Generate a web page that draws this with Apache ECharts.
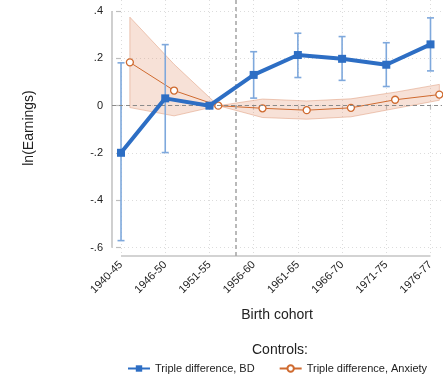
<!DOCTYPE html>
<html>
<head>
<meta charset="utf-8">
<script src="https://cdn.jsdelivr.net/npm/echarts@6/dist/echarts.min.js"></script>
<style>
  html, body { margin: 0; padding: 0; background: #fff; }
  #chart { width: 443px; height: 378px; }
</style>
</head>
<body>
<div id="chart"></div>
<script>
const cohorts = ['1940-45', '1946-50', '1951-55', '1956-60', '1961-65', '1966-70', '1971-75', '1976-77']
const cohortPos = [0, 1, 2, 3, 4, 5, 6, 7]
const anxShift = 0.2
const cutoffPos = 2.6

// Triple difference, BD (point + 95% CI)
const bdCoef = [-0.199, 0.031, 0, 0.130, 0.214, 0.198, 0.173, 0.259]
const bdLow = [-0.570, -0.198, null, 0.032, 0.119, 0.107, 0.081, 0.147]
const bdHigh = [0.181, 0.258, null, 0.228, 0.306, 0.292, 0.266, 0.371]

// Triple difference, Anxiety (point + CI band)
const anxCoef = [0.183, 0.064, 0, -0.011, -0.019, -0.009, 0.025, 0.047]
const anxLow = [-0.008, -0.043, 0, -0.050, -0.057, -0.047, -0.012, 0.023]
const anxHigh = [0.374, 0.175, 0, 0.028, 0.020, 0.029, 0.057, 0.090]

const yTicks = [-0.6, -0.4, -0.2, 0, 0.2, 0.4]
const yTickLabels = ['-.6', '-.4', '-.2', '0', '.2', '.4']

const blue = '#2d6ec4'
const blueCi = '#7ea8dc'
const orange = '#cf6a2f'
const font = 'Liberation Sans, Arial, Helvetica, sans-serif'

const chart = echarts.init(document.getElementById('chart'))

const bdCiData = cohortPos
  .map((x, i) => [x, bdLow[i], bdHigh[i]])
  .filter(d => d[1] !== null)
const anxBandData = cohortPos.map((x, i) => [x + anxShift, anxLow[i], anxHigh[i]])

chart.setOption({
  animation: false,
  textStyle: { fontFamily: font },
  grid: { left: 112, top: 0, width: 330, height: 256 },
  xAxis: {
    type: 'value',
    min: -0.204,
    max: 7.26,
    axisLine: { show: false },
    axisTick: { show: true, length: 4, customValues: cohortPos, lineStyle: { color: '#bdbdbd', width: 1.2 } },
    axisLabel: {
      customValues: cohortPos,
      rotate: 45,
      margin: 7,
      fontSize: 11,
      color: '#222',
      formatter: v => cohorts[Math.round(v)]
    },
    splitLine: { show: true, lineStyle: { color: '#dcdcdc', type: [1, 3], width: 1 } },
    name: 'Birth cohort',
    nameLocation: 'middle',
    nameGap: 52,
    nameTextStyle: { fontSize: 14, color: '#222' }
  },
  yAxis: {
    type: 'value',
    min: -0.635,
    max: 0.4465,
    axisLine: { show: false },
    axisTick: { show: true, length: 5, customValues: yTicks, lineStyle: { color: '#bdbdbd', width: 1.2 } },
    axisLabel: {
      customValues: yTicks,
      margin: 9,
      fontSize: 11,
      color: '#222',
      formatter: v => yTickLabels[yTicks.findIndex(t => Math.abs(t - v) < 1e-9)]
    },
    splitLine: { show: true, lineStyle: { color: '#dcdcdc', type: [1, 3], width: 1 } },
    name: 'ln(Earnings)',
    nameLocation: 'middle',
    nameGap: 76,
    nameTextStyle: { fontSize: 14, color: '#222' }
  },
  legend: {
    data: ['Triple difference, BD', 'Triple difference, Anxiety'],
    left: 122,
    top: 358,
    itemWidth: 22,
    itemHeight: 8,
    itemGap: 24,
    textStyle: { fontSize: 11, color: '#222' }
  },
  series: [
    {
      name: 'anxBand',
      type: 'custom',
      z: 1,
      data: anxBandData,
      renderItem(params, api) {
        if (params.dataIndex !== 0) return null
        const upper = anxBandData.map(d => api.coord([d[0], d[2]]))
        const lower = anxBandData.map(d => api.coord([d[0], d[1]])).reverse()
        return {
          type: 'polygon',
          shape: { points: upper.concat(lower) },
          style: { fill: 'rgba(226,140,100,0.26)', stroke: 'rgba(222,150,115,0.5)', lineWidth: 1 }
        }
      },
      markLine: {
        silent: true,
        symbol: 'none',
        label: { show: false },
        data: [
          { yAxis: 0, lineStyle: { color: '#8a8a8a', type: [4, 3], width: 1 } },
          { xAxis: cutoffPos, lineStyle: { color: '#a8a8a8', type: [4, 3], width: 1.6 } }
        ]
      }
    },
    {
      name: 'Triple difference, Anxiety',
      type: 'line',
      z: 3,
      data: cohortPos.map((x, i) => [x + anxShift, anxCoef[i]]),
      symbol: 'circle',
      symbolSize: 7,
      lineStyle: { color: orange, width: 1 },
      itemStyle: { color: '#fff', borderColor: orange, borderWidth: 1.3 }
    },
    {
      name: 'bdCi',
      type: 'custom',
      z: 4,
      data: bdCiData,
      renderItem(params, api) {
        const x = api.value(0)
        const lo = api.coord([x, api.value(1)])
        const hi = api.coord([x, api.value(2)])
        const cap = 3.5
        const style = { stroke: blueCi, lineWidth: 1.6 }
        return {
          type: 'group',
          children: [
            { type: 'line', shape: { x1: lo[0], y1: lo[1], x2: hi[0], y2: hi[1] }, style },
            { type: 'line', shape: { x1: hi[0] - cap, y1: hi[1], x2: hi[0] + cap, y2: hi[1] }, style },
            { type: 'line', shape: { x1: lo[0] - cap, y1: lo[1], x2: lo[0] + cap, y2: lo[1] }, style }
          ]
        }
      }
    },
    {
      name: 'Triple difference, BD',
      type: 'line',
      z: 5,
      data: cohortPos.map((x, i) => [x, bdCoef[i]]),
      symbol: 'rect',
      symbolSize: 8,
      lineStyle: { color: blue, width: 4 },
      itemStyle: { color: blue }
    }
  ]
})

// Stata-style detached axis lines, placed through the chart's own scales
const yTop = chart.convertToPixel({ gridIndex: 0 }, [-0.204, yTicks[yTicks.length - 1]])
const yBot = chart.convertToPixel({ gridIndex: 0 }, [-0.204, yTicks[0]])
const xLeft = chart.convertToPixel({ gridIndex: 0 }, [cohortPos[0], -0.635])
const xRight = chart.convertToPixel({ gridIndex: 0 }, [cohortPos[cohortPos.length - 1], -0.635])

chart.setOption({
  graphic: [
    {
      type: 'line',
      shape: { x1: yTop[0], y1: yTop[1], x2: yBot[0], y2: yBot[1] },
      style: { stroke: '#c4c4c4', lineWidth: 1.6 }
    },
    {
      type: 'line',
      shape: { x1: xLeft[0], y1: xLeft[1], x2: xRight[0], y2: xRight[1] },
      style: { stroke: '#c4c4c4', lineWidth: 1.6 }
    },
    {
      type: 'text',
      x: 280,
      y: 350,
      style: { text: 'Controls:', fontSize: 14, fontFamily: font, fill: '#222', align: 'center', verticalAlign: 'middle' }
    }
  ]
})
</script>
</body>
</html>
